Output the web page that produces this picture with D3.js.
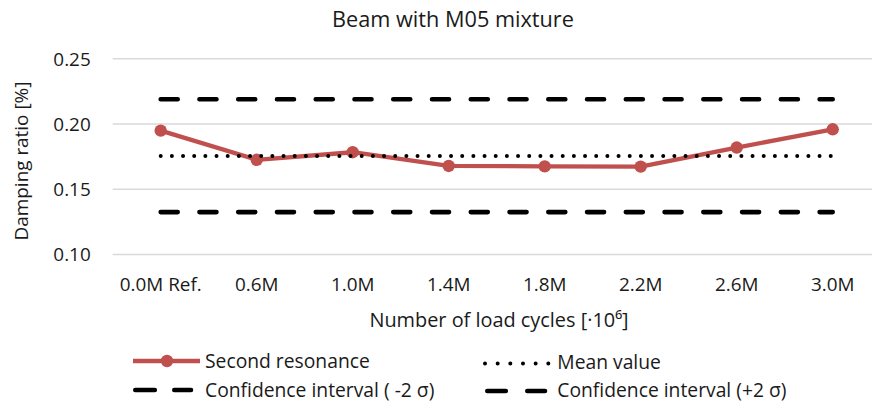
<!DOCTYPE html>
<html>
<head>
<meta charset="utf-8">
<script src="https://cdn.jsdelivr.net/npm/d3@7"></script>
<style>
  html, body { margin: 0; padding: 0; background: #fff; }
  svg { display: block; }
  text { font-family: "Open Sans", sans-serif; fill: #1a1a1a; }
</style>
</head>
<body>
<div id="chart"></div>
<script>
// ---- data ----
const categories = ["0.0M Ref.", "0.6M", "1.0M", "1.4M", "1.8M", "2.2M", "2.6M", "3.0M"];
const secondResonance = [0.1946, 0.1722, 0.1780, 0.1675, 0.1672, 0.1670, 0.1816, 0.1956];
const meanValue = [0.1752, 0.1752, 0.1752, 0.1752, 0.1752, 0.1752, 0.1752, 0.1752];
const ciLower = [0.1321, 0.1321, 0.1321, 0.1321, 0.1321, 0.1321, 0.1321, 0.1321];
const ciUpper = [0.2186, 0.2186, 0.2186, 0.2186, 0.2186, 0.2186, 0.2186, 0.2186];
const yTicks = [0.10, 0.15, 0.20, 0.25];
const titleText = "Beam with M05 mixture";
const xTitle = "Number of load cycles [·10⁶]";
const yTitle = "Damping ratio [%]";
const legendLabels = ["Second resonance", "Mean value", "Confidence interval ( -2 σ)", "Confidence interval (+2 σ)"];

// ---- layout ----
const W = 872, H = 403;
const FS = 18.9;
const RED = "#C0504D";

const svg = d3.select("#chart").append("svg")
  .attr("width", W).attr("height", H);

const x = d3.scaleBand().domain(categories).range([112.7, 880.7]).padding(0);
const cx = c => x(c) + x.bandwidth() / 2;
const y = d3.scaleLinear().domain([0.10, 0.25]).range([254, 58.3]);

// gridlines
const yAxis = d3.axisLeft(y).tickValues(yTicks).tickFormat(d3.format(".2f"))
  .tickSize(-(880.7 - 112.7)).tickPadding(22);
const gy = svg.append("g").attr("transform", "translate(112.7,0)").call(yAxis);
gy.select(".domain").remove();
gy.selectAll(".tick line").attr("stroke", "#d9d9d9").attr("stroke-width", 1.4);
gy.selectAll(".tick text").attr("font-size", FS).attr("fill", "#1a1a1a")
  .attr("font-family", "Open Sans, sans-serif").attr("dy", "0.36em");

// x axis labels
const xAxis = d3.axisBottom(x).tickSize(0).tickPadding(0);
const gx = svg.append("g").attr("transform", "translate(0,254)").call(xAxis);
gx.select(".domain").remove();
gx.selectAll(".tick text").attr("font-size", FS).attr("fill", "#1a1a1a")
  .attr("font-family", "Open Sans, sans-serif").attr("dy", null).attr("y", 36.7);

// series
const line = d3.line().x((d, i) => cx(categories[i])).y(d => y(d));

svg.append("path").datum(secondResonance)
  .attr("d", line).attr("fill", "none")
  .attr("stroke", RED).attr("stroke-width", 4.3).attr("stroke-linejoin", "round");
svg.selectAll("circle.m").data(secondResonance).enter().append("circle")
  .attr("class", "m")
  .attr("cx", (d, i) => cx(categories[i])).attr("cy", d => y(d))
  .attr("r", 6.2).attr("fill", RED);

svg.append("path").datum(meanValue)
  .attr("d", line).attr("fill", "none")
  .attr("stroke", "#000").attr("stroke-width", 4)
  .attr("stroke-linecap", "round").attr("stroke-dasharray", "0,11.167");

[ciLower, ciUpper].forEach(s => {
  svg.append("path").datum(s)
    .attr("d", line).attr("fill", "none")
    .attr("stroke", "#000").attr("stroke-width", 4.6)
    .attr("stroke-linecap", "round").attr("stroke-dasharray", "17,21.76");
});

// titles
svg.append("text").attr("x", 453).attr("y", 26.7).attr("text-anchor", "middle")
  .attr("font-size", 21.7).text(titleText);
svg.append("text").attr("x", 499).attr("y", 326.7).attr("text-anchor", "middle")
  .attr("font-size", 19.9).text(xTitle);
svg.append("text").attr("transform", "translate(28,161) rotate(-90)")
  .attr("text-anchor", "middle").attr("font-size", FS).text(yTitle);

// legend
const LFS = 19.3;
const lg = svg.append("g");
// second resonance
lg.append("line").attr("x1", 133).attr("x2", 200).attr("y1", 361).attr("y2", 361)
  .attr("stroke", RED).attr("stroke-width", 4.3);
lg.append("circle").attr("cx", 167).attr("cy", 361).attr("r", 6.2).attr("fill", RED);
lg.append("text").attr("x", 205).attr("y", 368.3).attr("font-size", LFS).text(legendLabels[0]);
// mean value
lg.append("line").attr("x1", 485).attr("x2", 549).attr("y1", 363.5).attr("y2", 363.5)
  .attr("stroke", "#000").attr("stroke-width", 4).attr("stroke-linecap", "round")
  .attr("stroke-dasharray", "0,12.66");
lg.append("text").attr("x", 557.3).attr("y", 369.3).attr("font-size", LFS).text(legendLabels[1]);
// CI lower
lg.append("line").attr("x1", 135.3).attr("x2", 191).attr("y1", 390).attr("y2", 390)
  .attr("stroke", "#000").attr("stroke-width", 4.6).attr("stroke-linecap", "round")
  .attr("stroke-dasharray", "19.5,19.5");
lg.append("text").attr("x", 205).attr("y", 396.7).attr("font-size", LFS).text(legendLabels[2]);
// CI upper
lg.append("line").attr("x1", 487.3).attr("x2", 545).attr("y1", 391).attr("y2", 391)
  .attr("stroke", "#000").attr("stroke-width", 4.6).attr("stroke-linecap", "round")
  .attr("stroke-dasharray", "18.5,21.5");
lg.append("text").attr("x", 557.3).attr("y", 396.7).attr("font-size", LFS).text(legendLabels[3]);
</script>
</body>
</html>
